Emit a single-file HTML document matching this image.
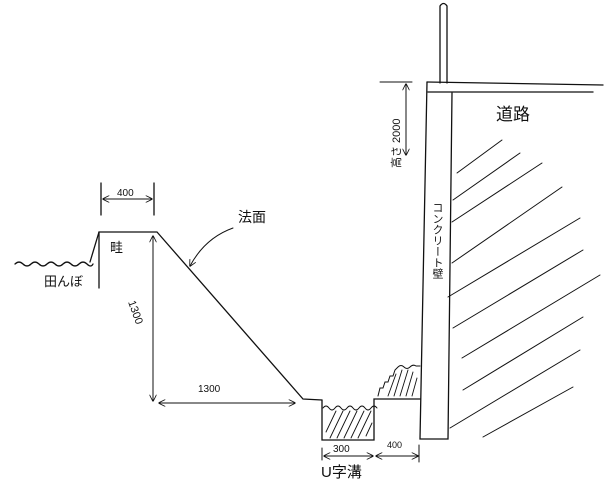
<!DOCTYPE html>
<html><head><meta charset="utf-8"><style>
html,body{margin:0;padding:0;background:#fff}
svg{display:block}
text{font-family:"Liberation Sans","Noto Sans CJK JP",sans-serif;fill:#111}
</style></head><body>
<svg width="615" height="488" viewBox="0 0 615 488" xmlns="http://www.w3.org/2000/svg">
<defs>
<marker id="a" viewBox="0 0 10 10" refX="9" refY="5" markerWidth="7" markerHeight="7" orient="auto-start-reverse"><path d="M0,0 L10,5 L0,10" fill="none" stroke="#111" stroke-width="1.2"/></marker>
</defs>
<g stroke="#111" stroke-width="1.3" fill="none" stroke-linecap="round">
<path d="M15,264 q4,-4 8,0 t8,0 t8,0 t8,0 t8,0 t8,0 t8,0 t8,0 t8,0 t6,0"/>
<path d="M90,262 L99,232 L157,232 L303,399 L322,400"/>
<line x1="99" y1="232" x2="99" y2="288"/>
<line x1="101" y1="183" x2="101" y2="215"/>
<line x1="154" y1="183" x2="154" y2="215"/>
<line x1="103" y1="199" x2="152" y2="199" marker-start="url(#a)" marker-end="url(#a)" stroke-width="1"/>
<line x1="153" y1="236" x2="153" y2="401" marker-start="url(#a)" marker-end="url(#a)" stroke-width="1"/>
<line x1="159" y1="403" x2="295" y2="403" marker-start="url(#a)" marker-end="url(#a)" stroke-width="1"/>
<path d="M233,228 Q205,238 190,266" marker-end="url(#a)" stroke-width="1"/>
<path d="M322,400 L322,440 L374,440 L374,399 L420,399"/>
<path d="M323,408 q3,-4 6,0 t6,0 t6,0 t6,0 t6,0 t6,0 t6,0 t6,0 t6,0" stroke-width="1"/>
<g stroke-width="0.9">
<line x1="326" y1="432" x2="336" y2="411"/><line x1="330" y1="438" x2="343" y2="411"/>
<line x1="337" y1="438" x2="350" y2="411"/><line x1="344" y1="438" x2="357" y2="411"/>
<line x1="351" y1="438" x2="364" y2="411"/><line x1="358" y1="438" x2="371" y2="411"/>
<line x1="366" y1="436" x2="372" y2="423"/>
</g>
<path d="M378,396 l2,-8 l3,0 l2,-6 l3,0 l2,-6 l3,0 l2,-6 l3,-3 q3,-3 6,0 t6,0 t6,-1 l4,0" stroke-width="1"/>
<g stroke-width="0.9">
<line x1="388" y1="396" x2="396" y2="374"/><line x1="394" y1="396" x2="402" y2="370"/>
<line x1="400" y1="396" x2="408" y2="370"/><line x1="406" y1="396" x2="413" y2="372"/>
<line x1="412" y1="396" x2="417" y2="378"/>
</g>
<line x1="322" y1="448" x2="322" y2="460" stroke-width="1"/>
<line x1="419" y1="445" x2="419" y2="462" stroke-width="1"/>
<line x1="324" y1="456" x2="373" y2="456" marker-start="url(#a)" marker-end="url(#a)" stroke-width="1"/>
<line x1="376" y1="456" x2="418" y2="456" marker-start="url(#a)" marker-end="url(#a)" stroke-width="1"/>
<path d="M440,83 L440,6 Q443.5,1 447,6 L447,83"/>
<line x1="427" y1="82" x2="603" y2="85"/>
<line x1="428" y1="92" x2="593" y2="92"/>
<path d="M427,82 L420,439 L448,439 L452,93"/>
<line x1="380" y1="82" x2="412" y2="82" stroke-width="1"/>
<line x1="406" y1="84" x2="406" y2="155" marker-start="url(#a)" marker-end="url(#a)" stroke-width="1"/>
<g stroke-width="1">
<line x1="457" y1="173" x2="502" y2="140"/>
<line x1="453" y1="200" x2="520" y2="153"/>
<line x1="452" y1="222" x2="542" y2="163"/>
<line x1="452" y1="263" x2="562" y2="187"/>
<line x1="448" y1="297" x2="580" y2="218"/>
<line x1="453" y1="328" x2="583" y2="250"/>
<line x1="462" y1="358" x2="600" y2="275"/>
<line x1="463" y1="390" x2="583" y2="317"/>
<line x1="450" y1="428" x2="580" y2="350"/>
<line x1="483" y1="437" x2="573" y2="387"/>
</g>
</g>
<text x="117" y="196" font-size="10">400</text>
<text x="44" y="286" font-size="13">田んぼ</text>
<text x="110" y="252" font-size="13">畦</text>
<text x="238" y="222" font-size="14">法面</text>
<text x="198" y="392" font-size="10">1300</text>
<text transform="translate(128,302) rotate(70)" font-size="11">1300</text>
<text x="333" y="452" font-size="10">300</text>
<text x="387" y="448" font-size="9">400</text>
<text x="321" y="477" font-size="15">U字溝</text>
<text x="496" y="120" font-size="17">道路</text>
<text transform="translate(400,168) rotate(-90)" font-size="11">高さ 2000</text>
<text font-size="11" x="437" y="202" style="writing-mode:vertical-rl">コンクリート壁</text>
</svg>
</body></html>
